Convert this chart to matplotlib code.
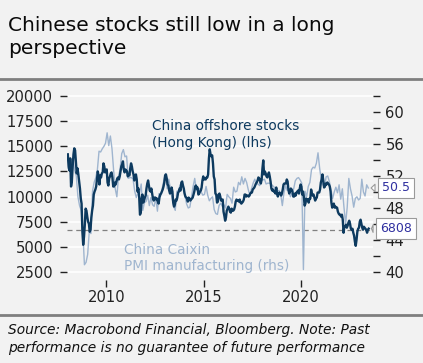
import numpy as np
import matplotlib.pyplot as plt

start_year = 2008

# China offshore stocks (Hong Kong), lhs: two readings per month (mid, end), Jan 2008 - Jun 2023
hscei = [
    14200, 13000, 12600, 13800, 11000, 11500, 13000, 14200, 14800, 14600, 13500, 12300,  # 2008 H1
    12800, 12200, 11500, 10800, 9800, 9300, 6500, 5200, 6000, 7200, 8800, 8600,          # 2008 H2
    8000, 7500, 7300, 6500, 6700, 7900, 8600, 9100, 10200, 10500, 10700, 11000,          # 2009 H1
    11800, 12500, 12000, 11200, 12100, 11900, 12300, 12400, 13300, 13000, 12400, 12600,  # 2009 H2
    12700, 11400, 11100, 11800, 12000, 12300, 12400, 11900, 11000, 11000, 11400, 11200,  # 2010 H1
    11500, 11800, 11900, 11700, 12000, 12500, 13000, 13200, 13500, 12700, 12400, 12700,  # 2010 H2
    12600, 12500, 12000, 12200, 12100, 12800, 13300, 13000, 12500, 12200, 11600, 11900,  # 2011 H1
    12200, 11700, 10500, 10800, 10000, 8200, 8400, 9800, 10200, 9400, 9600, 9900,        # 2011 H2
    10100, 10800, 11300, 11600, 11100, 10600, 10500, 10800, 10300, 9800, 9600, 9900,     # 2012 H1
    9900, 9700, 9800, 9500, 9300, 9900, 10200, 10300, 10500, 10700, 11000, 11400,        # 2012 H2
    12100, 12200, 11800, 11200, 11100, 10600, 10300, 10400, 10900, 10500, 9400, 9000,    # 2013 H1
    9200, 9700, 9600, 9900, 10400, 10500, 10800, 10600, 11400, 11500, 11100, 10800,      # 2013 H2
    10300, 10000, 9900, 9800, 9500, 9900, 9800, 9600, 9700, 9800, 9900, 10200,          # 2014 H1
    10500, 11000, 11100, 10800, 10900, 10200, 10300, 10500, 10600, 10900, 11600, 12000,  # 2014 H2
    11700, 11800, 11700, 11900, 11900, 12200, 13800, 14700, 14200, 14000, 14100, 13300,  # 2015 H1
    12000, 11700, 10300, 10200, 9400, 9500, 10200, 10300, 10000, 9600, 9700, 9700,       # 2015 H2
    8500, 8100, 7600, 7900, 8600, 8800, 9000, 8800, 8500, 8400, 8800, 8600,              # 2016 H1
    8600, 8700, 9000, 9500, 9700, 9600, 9600, 9500, 9700, 9400, 9300, 9400,              # 2016 H2
    9500, 9700, 10200, 10200, 10000, 10100, 10100, 10000, 10100, 10300, 10400, 10400,    # 2017 H1
    10700, 10800, 10900, 11100, 11300, 11400, 11600, 11900, 11800, 11600, 11300, 11700,  # 2017 H2
    12800, 13600, 12200, 12500, 12300, 12000, 11900, 12200, 12400, 12000, 11500, 10800,  # 2018 H1
    10600, 10700, 10500, 10500, 10300, 10900, 10300, 10000, 10300, 10400, 10300, 10100,  # 2018 H2
    10300, 10700, 11200, 11300, 11300, 11300, 11700, 11500, 10700, 10300, 10500, 10800,  # 2019 H1
    10700, 10500, 10000, 10000, 10300, 10100, 10400, 10500, 10600, 10300, 10800, 11200,  # 2019 H2
    11000, 10200, 10500, 10000, 9100, 9300, 9800, 9700, 9700, 9400, 9800, 9800,          # 2020 H1
    10700, 10300, 10100, 10200, 9900, 9600, 9800, 9900, 10400, 10400, 10400, 10700,      # 2020 H2
    11400, 11700, 12200, 11600, 10900, 11000, 11300, 11200, 11400, 11300, 11200, 11000,  # 2021 H1
    10500, 9400, 8900, 9200, 9300, 8900, 9000, 8900, 8900, 8500, 8300, 8200,             # 2021 H2
    8200, 8000, 8200, 7700, 6400, 7000, 7000, 7200, 6900, 7100, 7400, 7600,              # 2022 H1
    7300, 6800, 6700, 6800, 6400, 6100, 5500, 5100, 5700, 6500, 6800, 6900,              # 2022 H2
    7500, 7700, 7300, 6900, 6700, 7000, 6900, 6800, 6700, 6400, 6700, 6808,              # 2023 H1
]

# China Caixin PMI manufacturing, rhs: monthly, Jan 2008 - Jun 2023
pmi = [
    53.0, 53.4, 53.3, 54.1, 52.7, 52.0, 49.4, 48.3, 47.7, 45.2, 40.9, 41.2,  # 2008
    42.2, 45.1, 44.8, 50.1, 51.2, 51.8, 52.8, 55.1, 55.0, 55.4, 55.7, 56.1,  # 2009
    57.4, 55.8, 57.0, 55.4, 52.7, 50.4, 49.4, 51.9, 52.9, 54.8, 55.3, 54.4,  # 2010
    54.5, 51.7, 51.8, 51.8, 51.6, 50.1, 49.3, 49.9, 49.9, 51.0, 47.7, 48.7,  # 2011
    48.8, 49.6, 48.3, 49.3, 48.4, 48.2, 49.3, 47.6, 49.8, 49.5, 50.5, 51.5,  # 2012
    52.3, 50.4, 51.6, 50.4, 49.2, 48.2, 47.7, 50.1, 50.2, 50.9, 50.8, 50.5,  # 2013
    49.5, 48.5, 48.0, 48.1, 49.4, 50.7, 51.7, 50.2, 50.2, 50.4, 50.0, 49.6,  # 2014
    49.7, 50.7, 49.6, 48.9, 49.2, 49.4, 47.8, 47.3, 47.2, 48.3, 48.6, 48.2,  # 2015
    48.4, 48.0, 49.7, 49.4, 49.2, 48.6, 50.6, 50.0, 50.1, 51.2, 50.9, 51.9,  # 2016
    51.0, 51.7, 51.2, 50.3, 49.6, 50.4, 51.1, 51.6, 51.0, 51.0, 50.8, 51.5,  # 2017
    51.5, 51.6, 51.0, 51.1, 51.1, 51.0, 50.8, 50.6, 50.0, 50.1, 50.2, 49.7,  # 2018
    48.3, 49.9, 50.8, 50.2, 50.2, 49.4, 49.9, 50.4, 51.4, 51.7, 51.8, 51.5,  # 2019
    51.1, 40.3, 50.1, 49.4, 50.7, 51.2, 52.8, 53.1, 53.0, 53.6, 54.9, 53.0,  # 2020
    51.5, 50.9, 50.6, 51.9, 52.0, 51.3, 50.3, 49.2, 50.0, 50.6, 49.9, 50.9,  # 2021
    49.1, 50.4, 48.1, 46.0, 48.1, 51.7, 50.4, 49.5, 48.1, 49.2, 49.4, 49.0,  # 2022
    49.2, 51.6, 50.0, 49.5, 50.9, 50.5,                                      # 2023
]

ref_level = 6650          # dashed reference line (lhs)
left_ticks = [2500, 5000, 7500, 10000, 12500, 15000, 17500, 20000]
right_major = [40, 44, 48, 52, 56, 60]
right_minor = [42, 46, 50, 54, 58, 62]
year_ticks = [2010, 2015, 2020]

x_stk = start_year + np.arange(len(hscei)) / 24 + 1 / 48
x_pmi = start_year + np.arange(len(pmi)) / 12 + 1 / 24

bg = '#f2f2f2'
dark = '#0d3a5f'
light = '#9fb5cf'
tick_col = '#222222'

plt.rcParams['font.family'] = ['DejaVu Sans']

fig = plt.figure(figsize=(4.23, 3.63), dpi=100, facecolor=bg)

l, b, w, h = 67/423, 1 - 280/363, (373-67)/423, (280-92)/363
ylim_l = (1700, 20400)
ylim_r = (40 + (ylim_l[0]-2500)/795.45, 40 + (ylim_l[1]-2500)/795.45)
xlim = (2007.98, 2023.7)

# bottom axes: grid, dashed line and left ticks
ax = fig.add_axes([l, b, w, h])
ax.set_facecolor(bg)
ax.set_xlim(*xlim)
ax.set_ylim(*ylim_l)
ax.set_yticks(left_ticks)
ax.set_yticklabels([str(v) for v in left_ticks])
ax.grid(axis='y', color='white', lw=1.2)
ax.axhline(ref_level, color='#808080', lw=0.9, ls=(0, (4, 3)))
ax.set_xticks(year_ticks)
ax.set_xticklabels([str(v) for v in year_ticks])
for s in ax.spines.values():
    s.set_visible(False)
ax.tick_params(axis='y', length=5, width=1, color=tick_col, labelsize=10.6,
               labelcolor=tick_col, pad=5)
ax.tick_params(axis='x', length=5, width=1, color=tick_col, labelsize=10.6,
               labelcolor=tick_col, pad=2)

# PMI on the right axis
ax2 = ax.twinx()
ax2.patch.set_visible(False)
ax2.set_ylim(*ylim_r)
ax2.plot(x_pmi, pmi, color=light, lw=1.0)
ax2.set_yticks(right_major)
ax2.set_yticklabels([str(v) for v in right_major])
ax2.set_yticks(right_minor, minor=True)
for s in ax2.spines.values():
    s.set_visible(False)
ax2.tick_params(axis='y', which='both', length=5, width=1, color=tick_col,
                labelsize=10.6, labelcolor=tick_col, pad=4)

# stocks on top, same scale as the left axis
ax3 = ax.twinx()
ax3.patch.set_visible(False)
ax3.set_ylim(*ylim_l)
ax3.plot(x_stk, hscei, color=dark, lw=1.7)
ax3.set_yticks([])
for s in ax3.spines.values():
    s.set_visible(False)

ax3.text(2012.33, 16200, 'China offshore stocks\n(Hong Kong) (lhs)', color=dark,
         fontsize=9.8, linespacing=1.25, va='center', ha='left')
ax3.text(2010.89, 3850, 'China Caixin\nPMI manufacturing (rhs)', color=light,
         fontsize=9.8, linespacing=1.2, va='center', ha='left')

box = dict(boxstyle='square,pad=0.3', fc='white', ec='#9a9a9a', lw=0.8)
arrow = dict(arrowstyle='wedge,tail_width=0.6,shrink_factor=0.5', fc='white',
             ec='#9a9a9a', lw=0.8)
ax2.annotate(f'{pmi[-1]}', xy=(x_pmi[-1], pmi[-1]), xytext=(1.075, pmi[-1]),
             textcoords=('axes fraction', 'data'), ha='center', va='center',
             fontsize=9, color='#3030a0', bbox=box, arrowprops=arrow,
             annotation_clip=False, zorder=10)
ax3.annotate(f'{hscei[-1]}', xy=(x_stk[-1], hscei[-1]), xytext=(1.075, hscei[-1]),
             textcoords=('axes fraction', 'data'), ha='center', va='center',
             fontsize=9, color='#3030a0', bbox=box, arrowprops=arrow,
             annotation_clip=False, zorder=10)

# title, separators, source
fig.text(8/423, 1 - 37/363, 'Chinese stocks still low in a long\nperspective',
         fontsize=14.5, color='#0a0a0a', ha='left', va='center', linespacing=1.25)
fig.add_artist(plt.Line2D([0, 1], [1 - 79/363, 1 - 79/363], color='#7f7f7f', lw=2))
fig.add_artist(plt.Line2D([0, 1], [1 - 315/363, 1 - 315/363], color='#7f7f7f', lw=2))
fig.text(8/423, 1 - 339/363,
         'Source: Macrobond Financial, Bloomberg. Note: Past\nperformance is no guarantee of future performance',
         fontsize=9.95, style='italic', color='#111111', ha='left', va='center',
         linespacing=1.45)

fig.savefig('out.png', dpi=100, facecolor=bg)
